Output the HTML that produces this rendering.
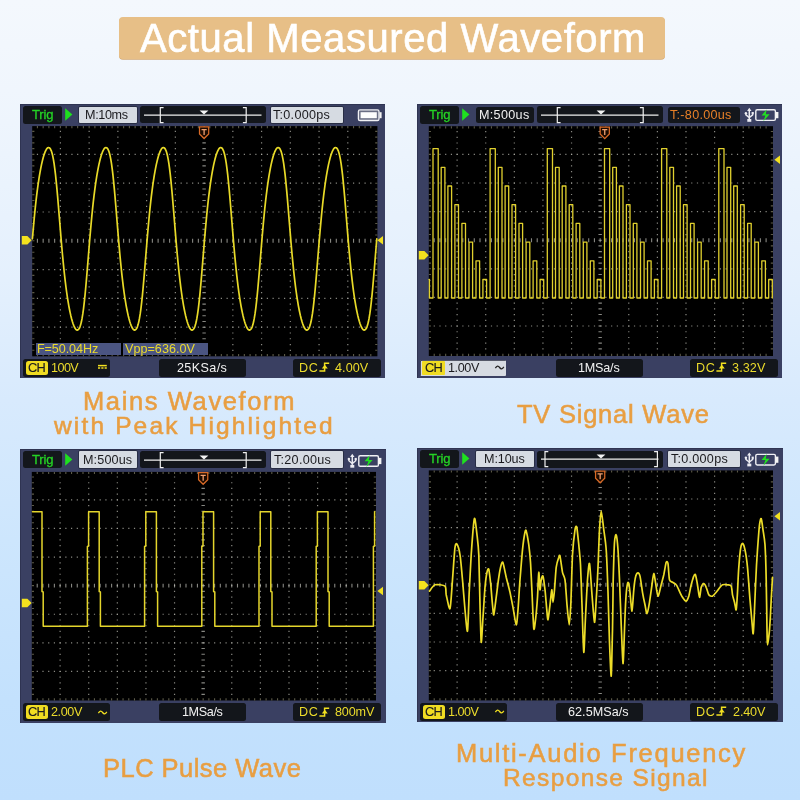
<!DOCTYPE html><html><head><meta charset="utf-8"><title>Actual Measured Waveform</title><style>

html,body{margin:0;padding:0}
body{width:800px;height:800px;position:relative;overflow:hidden;font-family:"Liberation Sans",sans-serif;
background:linear-gradient(180deg,#f4f8fd 0px,#f0f6fd 90px,#e4f0fd 280px,#d8eafd 400px,#cde6fd 540px,#c3e1fd 700px,#c0dffd 800px);}
.banner{position:absolute;left:118.6px;top:17px;width:546.6px;height:42px;background:#e7bf87;border-radius:4px;box-shadow:0 0.8px 0 #d3a974}
.title{will-change:transform;color:#fff;-webkit-text-stroke:0.6px #fff}
.cap{will-change:transform;color:#e89e42;-webkit-text-stroke:0.55px #e89e42}
.scope{position:absolute;width:365.4px;height:274px;background:#3a4062;box-shadow:inset 1px 0 0 #2f3452, inset 0 1px 0 #2f3452}
.scope svg.g{position:absolute;left:0;top:0;z-index:1}
.bx{position:absolute;border-radius:2.5px;z-index:0}
.dk{background:#13161b}
.lt{background:#d6dbe2;border-radius:1px;box-shadow:0 0 0 0.7px #22263a}
.tx{z-index:3;will-change:transform}
.grn{color:#25d325;-webkit-text-stroke:0.3px #25d325}
.blk{color:#1a1a1e}
.wht{color:#f2f2f2}
.yel{color:#ecdc2c}
.org{color:#e88028}
.ch{position:absolute;background:#f0dc22;border-radius:2.5px;z-index:1}
.ms{position:absolute;background:#4b5582;z-index:2}
.ms + .tx{z-index:3;will-change:transform}

</style></head><body>
<div class="banner"></div>
<div class="title" style="position:absolute;white-space:nowrap;left:139.75px;top:10.14px;font-size:40px;line-height:56px;letter-spacing:0.580px;">Actual Measured Waveform</div>
<div class="scope" style="left:20px;top:104px;width:365.0px">
<div class="bx dk" style="left:3px;top:2.2px;width:38.6px;height:17.4px"></div>
<div class="bx lt" style="left:59.4px;top:2.8px;width:57.2px;height:16.3px"></div>
<div class="bx dk" style="left:120px;top:2.4px;width:126.4px;height:17px"></div>
<div class="bx lt" style="left:251px;top:2.8px;width:72.4px;height:16.3px"></div>
<div class="bx dk" style="left:2.8px;top:254.9px;width:86.8px;height:17.7px"></div>
<div class="ch" style="left:5.6px;top:256.8px;width:22.4px;height:13.8px"></div>
<div class="bx dk" style="left:139.4px;top:254.9px;width:86.4px;height:17.7px"></div>
<div class="bx dk" style="left:273.2px;top:254.9px;width:87.4px;height:17.7px"></div>
<svg class="g" width="365.5" height="274.0" viewBox="0 0 365.5 274.0">
<rect x="12.2" y="22.1" width="345.20" height="230.20" fill="#000"/>
<line x1="40.40" y1="26.81" x2="40.40" y2="250.00" stroke="#b0b0a8" stroke-width="1.2" stroke-dasharray="1.2 4.560" opacity="0.78"/>
<line x1="69.14" y1="26.81" x2="69.14" y2="250.00" stroke="#b0b0a8" stroke-width="1.2" stroke-dasharray="1.2 4.560" opacity="0.78"/>
<line x1="97.88" y1="26.81" x2="97.88" y2="250.00" stroke="#b0b0a8" stroke-width="1.2" stroke-dasharray="1.2 4.560" opacity="0.78"/>
<line x1="126.62" y1="26.81" x2="126.62" y2="250.00" stroke="#b0b0a8" stroke-width="1.2" stroke-dasharray="1.2 4.560" opacity="0.78"/>
<line x1="155.36" y1="26.81" x2="155.36" y2="250.00" stroke="#b0b0a8" stroke-width="1.2" stroke-dasharray="1.2 4.560" opacity="0.78"/>
<line x1="212.84" y1="26.81" x2="212.84" y2="250.00" stroke="#b0b0a8" stroke-width="1.2" stroke-dasharray="1.2 4.560" opacity="0.78"/>
<line x1="241.58" y1="26.81" x2="241.58" y2="250.00" stroke="#b0b0a8" stroke-width="1.2" stroke-dasharray="1.2 4.560" opacity="0.78"/>
<line x1="270.32" y1="26.81" x2="270.32" y2="250.00" stroke="#b0b0a8" stroke-width="1.2" stroke-dasharray="1.2 4.560" opacity="0.78"/>
<line x1="299.06" y1="26.81" x2="299.06" y2="250.00" stroke="#b0b0a8" stroke-width="1.2" stroke-dasharray="1.2 4.560" opacity="0.78"/>
<line x1="327.80" y1="26.81" x2="327.80" y2="250.00" stroke="#b0b0a8" stroke-width="1.2" stroke-dasharray="1.2 4.560" opacity="0.78"/>
<line x1="16.86" y1="50.40" x2="354.54" y2="50.40" stroke="#b0b0a8" stroke-width="1.2" stroke-dasharray="1.2 4.548" opacity="0.78"/>
<line x1="16.86" y1="79.20" x2="354.54" y2="79.20" stroke="#b0b0a8" stroke-width="1.2" stroke-dasharray="1.2 4.548" opacity="0.78"/>
<line x1="16.86" y1="108.00" x2="354.54" y2="108.00" stroke="#b0b0a8" stroke-width="1.2" stroke-dasharray="1.2 4.548" opacity="0.78"/>
<line x1="16.86" y1="165.60" x2="354.54" y2="165.60" stroke="#b0b0a8" stroke-width="1.2" stroke-dasharray="1.2 4.548" opacity="0.78"/>
<line x1="16.86" y1="194.40" x2="354.54" y2="194.40" stroke="#b0b0a8" stroke-width="1.2" stroke-dasharray="1.2 4.548" opacity="0.78"/>
<line x1="16.86" y1="223.20" x2="354.54" y2="223.20" stroke="#b0b0a8" stroke-width="1.2" stroke-dasharray="1.2 4.548" opacity="0.78"/>
<line x1="16.86" y1="136.80" x2="354.54" y2="136.80" stroke="#c8c8c0" stroke-width="3.9" stroke-dasharray="1.1 4.648" opacity="0.68"/>
<line x1="184.10" y1="26.81" x2="184.10" y2="250.00" stroke="#c8c8c0" stroke-width="3.4" stroke-dasharray="1.1 4.660" opacity="0.68"/>
<line x1="16.86" y1="23.20" x2="354.54" y2="23.20" stroke="#5c5a48" stroke-width="2.2" stroke-dasharray="1.1 4.648"/>
<line x1="16.86" y1="251.20" x2="354.54" y2="251.20" stroke="#5c5a48" stroke-width="2.2" stroke-dasharray="1.1 4.648"/>
<line x1="13.30" y1="26.81" x2="13.30" y2="250.00" stroke="#5c5a48" stroke-width="2.2" stroke-dasharray="1.1 4.660"/>
<line x1="356.30" y1="26.81" x2="356.30" y2="250.00" stroke="#5c5a48" stroke-width="2.2" stroke-dasharray="1.1 4.660"/>
<polyline points="12.4,134.8 13.1,126.6 13.8,118.8 14.5,111.4 15.2,104.4 15.9,97.9 16.6,91.9 17.3,86.3 18.0,81.1 18.7,76.3 19.4,71.9 20.1,67.8 20.8,64.1 21.5,60.7 22.2,57.6 22.9,54.8 23.6,52.3 24.3,50.1 25.0,48.2 25.7,46.6 26.4,45.3 27.1,44.3 27.8,43.7 28.5,43.5 29.2,43.7 29.9,44.2 30.6,45.3 31.3,46.8 32.0,49.0 32.7,51.8 33.4,55.4 34.1,59.7 34.8,64.8 35.5,70.7 36.2,77.3 36.9,84.6 37.6,92.4 38.3,100.7 39.0,109.2 39.7,117.8 40.4,126.4 41.1,134.8 41.8,143.0 42.5,150.8 43.2,158.2 43.9,165.2 44.6,171.7 45.3,177.7 46.0,183.3 46.7,188.5 47.4,193.3 48.1,197.7 48.8,201.8 49.5,205.5 50.2,208.9 50.9,212.0 51.6,214.8 52.3,217.3 53.0,219.5 53.7,221.4 54.4,223.0 55.1,224.3 55.8,225.3 56.5,225.9 57.2,226.1 57.9,225.9 58.6,225.4 59.3,224.3 60.0,222.8 60.7,220.6 61.4,217.8 62.1,214.2 62.8,209.9 63.5,204.8 64.2,198.9 64.9,192.3 65.6,185.0 66.3,177.2 67.0,168.9 67.7,160.4 68.4,151.8 69.1,143.2 69.8,134.8 70.5,126.6 71.2,118.8 71.9,111.4 72.6,104.4 73.3,97.9 74.0,91.9 74.7,86.3 75.4,81.1 76.1,76.3 76.8,71.9 77.5,67.8 78.2,64.1 78.9,60.7 79.6,57.6 80.3,54.8 81.0,52.3 81.7,50.1 82.4,48.2 83.1,46.6 83.8,45.3 84.5,44.3 85.2,43.7 85.9,43.5 86.6,43.7 87.3,44.2 88.0,45.3 88.7,46.8 89.4,49.0 90.1,51.8 90.8,55.4 91.5,59.7 92.2,64.8 92.9,70.7 93.6,77.3 94.3,84.6 95.0,92.4 95.7,100.7 96.4,109.2 97.1,117.8 97.8,126.4 98.5,134.8 99.2,143.0 99.9,150.8 100.6,158.2 101.3,165.2 102.0,171.7 102.7,177.7 103.4,183.3 104.1,188.5 104.8,193.3 105.5,197.7 106.2,201.8 106.9,205.5 107.6,208.9 108.3,212.0 109.0,214.8 109.7,217.3 110.4,219.5 111.1,221.4 111.8,223.0 112.5,224.3 113.2,225.3 113.9,225.9 114.6,226.1 115.3,225.9 116.0,225.4 116.7,224.3 117.4,222.8 118.1,220.6 118.8,217.8 119.5,214.2 120.2,209.9 120.9,204.8 121.6,198.9 122.3,192.3 123.0,185.0 123.7,177.2 124.4,168.9 125.1,160.4 125.8,151.8 126.5,143.2 127.2,134.8 127.9,126.6 128.6,118.8 129.3,111.4 130.0,104.4 130.7,97.9 131.4,91.9 132.1,86.3 132.8,81.1 133.5,76.3 134.2,71.9 134.9,67.8 135.6,64.1 136.3,60.7 137.0,57.6 137.7,54.8 138.4,52.3 139.1,50.1 139.8,48.2 140.5,46.6 141.2,45.3 141.9,44.3 142.6,43.7 143.3,43.5 144.0,43.7 144.7,44.2 145.4,45.3 146.1,46.8 146.8,49.0 147.5,51.8 148.2,55.4 148.9,59.7 149.6,64.8 150.3,70.7 151.0,77.3 151.7,84.6 152.4,92.4 153.1,100.7 153.8,109.2 154.5,117.8 155.2,126.4 155.9,134.8 156.6,143.0 157.3,150.8 158.0,158.2 158.7,165.2 159.4,171.7 160.1,177.7 160.8,183.3 161.5,188.5 162.2,193.3 162.9,197.7 163.6,201.8 164.3,205.5 165.0,208.9 165.7,212.0 166.4,214.8 167.1,217.3 167.8,219.5 168.5,221.4 169.2,223.0 169.9,224.3 170.6,225.3 171.3,225.9 172.0,226.1 172.7,225.9 173.4,225.4 174.1,224.3 174.8,222.8 175.5,220.6 176.2,217.8 176.9,214.2 177.6,209.9 178.3,204.8 179.0,198.9 179.7,192.3 180.4,185.0 181.1,177.2 181.8,168.9 182.5,160.4 183.2,151.8 183.9,143.2 184.6,134.8 185.3,126.6 186.0,118.8 186.7,111.4 187.4,104.4 188.1,97.9 188.8,91.9 189.5,86.3 190.2,81.1 190.9,76.3 191.6,71.9 192.3,67.8 193.0,64.1 193.7,60.7 194.4,57.6 195.1,54.8 195.8,52.3 196.5,50.1 197.2,48.2 197.9,46.6 198.6,45.3 199.3,44.3 200.0,43.7 200.7,43.5 201.4,43.7 202.1,44.2 202.8,45.3 203.5,46.8 204.2,49.0 204.9,51.8 205.6,55.4 206.3,59.7 207.0,64.8 207.7,70.7 208.4,77.3 209.1,84.6 209.8,92.4 210.5,100.7 211.2,109.2 211.9,117.8 212.6,126.4 213.3,134.8 214.0,143.0 214.7,150.8 215.4,158.2 216.1,165.2 216.8,171.7 217.5,177.7 218.2,183.3 218.9,188.5 219.6,193.3 220.3,197.7 221.0,201.8 221.7,205.5 222.4,208.9 223.1,212.0 223.8,214.8 224.5,217.3 225.2,219.5 225.9,221.4 226.6,223.0 227.3,224.3 228.0,225.3 228.7,225.9 229.4,226.1 230.1,225.9 230.8,225.4 231.5,224.3 232.2,222.8 232.9,220.6 233.6,217.8 234.3,214.2 235.0,209.9 235.7,204.8 236.4,198.9 237.1,192.3 237.8,185.0 238.5,177.2 239.2,168.9 239.9,160.4 240.6,151.8 241.3,143.2 242.0,134.8 242.7,126.6 243.4,118.8 244.1,111.4 244.8,104.4 245.5,97.9 246.2,91.9 246.9,86.3 247.6,81.1 248.3,76.3 249.0,71.9 249.7,67.8 250.4,64.1 251.1,60.7 251.8,57.6 252.5,54.8 253.2,52.3 253.9,50.1 254.6,48.2 255.3,46.6 256.0,45.3 256.7,44.3 257.4,43.7 258.1,43.5 258.8,43.7 259.5,44.2 260.2,45.3 260.9,46.8 261.6,49.0 262.3,51.8 263.0,55.4 263.7,59.7 264.4,64.8 265.1,70.7 265.8,77.3 266.5,84.6 267.2,92.4 267.9,100.7 268.6,109.2 269.3,117.8 270.0,126.4 270.7,134.8 271.4,143.0 272.1,150.8 272.8,158.2 273.5,165.2 274.2,171.7 274.9,177.7 275.6,183.3 276.3,188.5 277.0,193.3 277.7,197.7 278.4,201.8 279.1,205.5 279.8,208.9 280.5,212.0 281.2,214.8 281.9,217.3 282.6,219.5 283.3,221.4 284.0,223.0 284.7,224.3 285.4,225.3 286.1,225.9 286.8,226.1 287.5,225.9 288.2,225.4 288.9,224.3 289.6,222.8 290.3,220.6 291.0,217.8 291.7,214.2 292.4,209.9 293.1,204.8 293.8,198.9 294.5,192.3 295.2,185.0 295.9,177.2 296.6,168.9 297.3,160.4 298.0,151.8 298.7,143.2 299.4,134.8 300.1,126.6 300.8,118.8 301.5,111.4 302.2,104.4 302.9,97.9 303.6,91.9 304.3,86.3 305.0,81.1 305.7,76.3 306.4,71.9 307.1,67.8 307.8,64.1 308.5,60.7 309.2,57.6 309.9,54.8 310.6,52.3 311.3,50.1 312.0,48.2 312.7,46.6 313.4,45.3 314.1,44.3 314.8,43.7 315.5,43.5 316.2,43.7 316.9,44.2 317.6,45.3 318.3,46.8 319.0,49.0 319.7,51.8 320.4,55.4 321.1,59.7 321.8,64.8 322.5,70.7 323.2,77.3 323.9,84.6 324.6,92.4 325.3,100.7 326.0,109.2 326.7,117.8 327.4,126.4 328.1,134.8 328.8,143.0 329.5,150.8 330.2,158.2 330.9,165.2 331.6,171.7 332.3,177.7 333.0,183.3 333.7,188.5 334.4,193.3 335.1,197.7 335.8,201.8 336.5,205.5 337.2,208.9 337.9,212.0 338.6,214.8 339.3,217.3 340.0,219.5 340.7,221.4 341.4,223.0 342.1,224.3 342.8,225.3 343.5,225.9 344.2,226.1 344.9,225.9 345.6,225.4 346.3,224.3 347.0,222.8 347.7,220.6 348.4,217.8 349.1,214.2 349.8,209.9 350.5,204.8 351.2,198.9 351.9,192.3 352.6,185.0 353.3,177.2 354.0,168.9 354.7,160.4 355.4,151.8 356.1,143.2 356.8,134.8" fill="none" stroke="#e8da28" stroke-width="1.7" stroke-linejoin="round" stroke-linecap="round"/>
<g transform="translate(184.10,22.30)" fill="none" stroke="#d96a26" stroke-width="1.25"><path d="M-4.6,0.6 H4.6 V7.6 L0,12.2 L-4.6,7.6 Z" fill="#1a0a00"/><path d="M-2.6,3.3 H2.6 M0,3.3 V8.6" stroke="#f0a070" stroke-width="1.3"/></g>
<path d="M1.8,132.0 H7.4 L11.6,136.3 L7.4,140.6 H1.8 Z" fill="#f4e21e"/>
<path d="M363,132.1 V140.5 L357.4,136.3 Z" fill="#f2e020"/>
<g stroke="#f0f0f0" stroke-width="1.2" fill="none"><path d="M124,11.2 H241.5"/><path d="M143.6,3.6 H140.3 V18.6 H143.6"/><path d="M222.9,3.6 H226.2 V18.6 H222.9"/></g>
<path d="M179.6,6.4 H188.4 L184,10.6 Z" fill="#f4f4f4"/>
<path d="M45.2,4.2 V16.8 L52.4,10.5 Z" fill="#1fe01f"/>
<g transform="translate(0,0)">
<rect x="338.4" y="5.9" width="20.6" height="10.6" rx="1.6" fill="#6a6e84" stroke="#f2f2f6" stroke-width="1.3"/><rect x="340.6" y="8.2" width="16.2" height="6" fill="#fdfdfd"/><rect x="359.4" y="8.2" width="2.2" height="6" fill="#f4f4f4"/>
</g>
<g stroke="#f2e020"><path d="M78,261.6 H86.8" stroke-width="1.5"/><path d="M78,264 H86.8" stroke-dasharray="2.2 1.1" stroke-width="1.3"/></g>
<path d="M299.4,267 H304.6 V259.3 H309.2" fill="none" stroke="#f2e020" stroke-width="1.5"/><path d="M301.8,264.4 L304.8,260.8 L307.8,264.4 Z" fill="#f2e020"/>
</svg>
</div>
<div class="tx grn" style="position:absolute;white-space:nowrap;left:32.20px;top:106.10px;font-size:13px;line-height:18px;letter-spacing:-0.125px;">Trig</div>
<div class="tx blk" style="position:absolute;white-space:nowrap;left:85.45px;top:106.13px;font-size:12.6px;line-height:18px;letter-spacing:-0.348px;">M:10ms</div>
<div class="tx blk" style="position:absolute;white-space:nowrap;left:273.20px;top:106.03px;font-size:12.6px;line-height:18px;letter-spacing:0.273px;">T:0.000ps</div>
<div class="tx blk" style="position:absolute;white-space:nowrap;left:28.40px;top:358.86px;font-size:12.8px;line-height:18px;letter-spacing:-0.842px;-webkit-text-stroke:0.15px #222;">CH</div>
<div class="tx yel" style="position:absolute;white-space:nowrap;left:50.95px;top:358.83px;font-size:12.6px;line-height:18px;letter-spacing:-0.554px;">100V</div>
<div class="tx wht" style="position:absolute;white-space:nowrap;left:176.70px;top:358.63px;font-size:12.6px;line-height:18px;letter-spacing:0.365px;">25KSa/s</div>
<div class="tx yel" style="position:absolute;white-space:nowrap;left:299.10px;top:358.63px;font-size:12.6px;line-height:18px;letter-spacing:0.705px;">DC</div>
<div class="tx yel" style="position:absolute;white-space:nowrap;left:334.70px;top:358.63px;font-size:12.6px;line-height:18px;letter-spacing:0.072px;">4.00V</div>
<div class="ms" style="left:36.3px;top:342.6px;width:85.2px;height:12.2px"></div>
<div class="ms" style="left:123px;top:342.6px;width:85px;height:12.2px"></div>
<div class="tx yel" style="position:absolute;white-space:nowrap;left:37.20px;top:339.63px;font-size:12.6px;line-height:18px;letter-spacing:-0.095px;">F=50.04Hz</div>
<div class="tx yel" style="position:absolute;white-space:nowrap;left:124.70px;top:339.63px;font-size:12.6px;line-height:18px;letter-spacing:0.025px;">Vpp=636.0V</div>
<div class="scope" style="left:417px;top:104px;width:365.4px">
<div class="bx dk" style="left:3px;top:2.2px;width:38.6px;height:17.4px"></div>
<div class="bx dk" style="left:59.4px;top:2.8px;width:57.2px;height:16.3px"></div>
<div class="bx dk" style="left:120px;top:2.4px;width:126.4px;height:17px"></div>
<div class="bx dk" style="left:251px;top:2.8px;width:72.4px;height:16.3px"></div>
<div class="bx lt" style="left:3.4px;top:255.6px;width:85.4px;height:16.2px;box-shadow:inset 0.8px 0.8px 0 #2a2e40"></div>
<div class="ch" style="left:4.8px;top:256.8px;width:23.6px;height:14px;border-radius:1px"></div>
<div class="bx dk" style="left:139.4px;top:254.9px;width:86.4px;height:17.7px"></div>
<div class="bx dk" style="left:273.2px;top:254.9px;width:87.4px;height:17.7px"></div>
<svg class="g" width="365.5" height="274.0" viewBox="0 0 365.5 274.0">
<rect x="11.8" y="22.2" width="344.20" height="229.80" fill="#000"/>
<line x1="40.11" y1="26.97" x2="40.11" y2="248.60" stroke="#b0b0a8" stroke-width="1.2" stroke-dasharray="1.2 4.520" opacity="0.78"/>
<line x1="68.72" y1="26.97" x2="68.72" y2="248.60" stroke="#b0b0a8" stroke-width="1.2" stroke-dasharray="1.2 4.520" opacity="0.78"/>
<line x1="97.33" y1="26.97" x2="97.33" y2="248.60" stroke="#b0b0a8" stroke-width="1.2" stroke-dasharray="1.2 4.520" opacity="0.78"/>
<line x1="125.94" y1="26.97" x2="125.94" y2="248.60" stroke="#b0b0a8" stroke-width="1.2" stroke-dasharray="1.2 4.520" opacity="0.78"/>
<line x1="154.55" y1="26.97" x2="154.55" y2="248.60" stroke="#b0b0a8" stroke-width="1.2" stroke-dasharray="1.2 4.520" opacity="0.78"/>
<line x1="211.77" y1="26.97" x2="211.77" y2="248.60" stroke="#b0b0a8" stroke-width="1.2" stroke-dasharray="1.2 4.520" opacity="0.78"/>
<line x1="240.38" y1="26.97" x2="240.38" y2="248.60" stroke="#b0b0a8" stroke-width="1.2" stroke-dasharray="1.2 4.520" opacity="0.78"/>
<line x1="268.99" y1="26.97" x2="268.99" y2="248.60" stroke="#b0b0a8" stroke-width="1.2" stroke-dasharray="1.2 4.520" opacity="0.78"/>
<line x1="297.60" y1="26.97" x2="297.60" y2="248.60" stroke="#b0b0a8" stroke-width="1.2" stroke-dasharray="1.2 4.520" opacity="0.78"/>
<line x1="326.21" y1="26.97" x2="326.21" y2="248.60" stroke="#b0b0a8" stroke-width="1.2" stroke-dasharray="1.2 4.520" opacity="0.78"/>
<line x1="16.67" y1="50.40" x2="352.82" y2="50.40" stroke="#b0b0a8" stroke-width="1.2" stroke-dasharray="1.2 4.522" opacity="0.78"/>
<line x1="16.67" y1="79.00" x2="352.82" y2="79.00" stroke="#b0b0a8" stroke-width="1.2" stroke-dasharray="1.2 4.522" opacity="0.78"/>
<line x1="16.67" y1="107.60" x2="352.82" y2="107.60" stroke="#b0b0a8" stroke-width="1.2" stroke-dasharray="1.2 4.522" opacity="0.78"/>
<line x1="16.67" y1="164.80" x2="352.82" y2="164.80" stroke="#b0b0a8" stroke-width="1.2" stroke-dasharray="1.2 4.522" opacity="0.78"/>
<line x1="16.67" y1="193.40" x2="352.82" y2="193.40" stroke="#b0b0a8" stroke-width="1.2" stroke-dasharray="1.2 4.522" opacity="0.78"/>
<line x1="16.67" y1="222.00" x2="352.82" y2="222.00" stroke="#b0b0a8" stroke-width="1.2" stroke-dasharray="1.2 4.522" opacity="0.78"/>
<line x1="16.67" y1="136.20" x2="352.82" y2="136.20" stroke="#c8c8c0" stroke-width="3.9" stroke-dasharray="1.1 4.622" opacity="0.68"/>
<line x1="183.16" y1="26.97" x2="183.16" y2="248.60" stroke="#c8c8c0" stroke-width="3.4" stroke-dasharray="1.1 4.620" opacity="0.68"/>
<line x1="16.67" y1="23.30" x2="352.82" y2="23.30" stroke="#5c5a48" stroke-width="2.2" stroke-dasharray="1.1 4.622"/>
<line x1="16.67" y1="250.90" x2="352.82" y2="250.90" stroke="#5c5a48" stroke-width="2.2" stroke-dasharray="1.1 4.622"/>
<line x1="12.90" y1="26.97" x2="12.90" y2="248.60" stroke="#5c5a48" stroke-width="2.2" stroke-dasharray="1.1 4.620"/>
<line x1="354.90" y1="26.97" x2="354.90" y2="248.60" stroke="#5c5a48" stroke-width="2.2" stroke-dasharray="1.1 4.620"/>
<polyline points="12.0,175.5 12.4,175.5 12.4,194.0 16.0,194.0 16.0,44.6 21.2,44.6 21.2,194.0 24.2,194.0 24.2,63.3 27.9,63.3 27.9,194.0 30.9,194.0 30.9,82.0 34.6,82.0 34.6,194.0 37.9,194.0 37.9,100.7 41.5,100.7 41.5,194.0 44.9,194.0 44.9,119.4 48.5,119.4 48.5,194.0 52.0,194.0 52.0,138.1 55.6,138.1 55.6,194.0 59.0,194.0 59.0,156.8 62.6,156.8 62.6,194.0 65.9,194.0 65.9,175.5 69.6,175.5 69.6,194.0 73.1,194.0 73.1,44.6 78.3,44.6 78.3,194.0 81.3,194.0 81.3,63.3 85.0,63.3 85.0,194.0 88.1,194.0 88.1,82.0 91.7,82.0 91.7,194.0 95.0,194.0 95.0,100.7 98.6,100.7 98.6,194.0 102.0,194.0 102.0,119.4 105.6,119.4 105.6,194.0 109.1,194.0 109.1,138.1 112.8,138.1 112.8,194.0 116.1,194.0 116.1,156.8 119.8,156.8 119.8,194.0 123.1,194.0 123.1,175.5 126.7,175.5 126.7,194.0 130.3,194.0 130.3,44.6 135.5,44.6 135.5,194.0 138.5,194.0 138.5,63.3 142.2,63.3 142.2,194.0 145.2,194.0 145.2,82.0 148.9,82.0 148.9,194.0 152.2,194.0 152.2,100.7 155.8,100.7 155.8,194.0 159.1,194.0 159.1,119.4 162.8,119.4 162.8,194.0 166.3,194.0 166.3,138.1 169.9,138.1 169.9,194.0 173.3,194.0 173.3,156.8 176.9,156.8 176.9,194.0 180.2,194.0 180.2,175.5 183.9,175.5 183.9,194.0 187.5,194.0 187.5,44.6 192.7,44.6 192.7,194.0 195.7,194.0 195.7,63.3 199.4,63.3 199.4,194.0 202.4,194.0 202.4,82.0 206.0,82.0 206.0,194.0 209.4,194.0 209.4,100.7 213.0,100.7 213.0,194.0 216.3,194.0 216.3,119.4 219.9,119.4 219.9,194.0 223.5,194.0 223.5,138.1 227.1,138.1 227.1,194.0 230.5,194.0 230.5,156.8 234.1,156.8 234.1,194.0 237.4,194.0 237.4,175.5 241.0,175.5 241.0,194.0 244.6,194.0 244.6,44.6 249.8,44.6 249.8,194.0 252.8,194.0 252.8,63.3 256.5,63.3 256.5,194.0 259.6,194.0 259.6,82.0 263.2,82.0 263.2,194.0 266.5,194.0 266.5,100.7 270.1,100.7 270.1,194.0 273.5,194.0 273.5,119.4 277.1,119.4 277.1,194.0 280.6,194.0 280.6,138.1 284.2,138.1 284.2,194.0 287.6,194.0 287.6,156.8 291.2,156.8 291.2,194.0 294.6,194.0 294.6,175.5 298.2,175.5 298.2,194.0 301.8,194.0 301.8,44.6 307.0,44.6 307.0,194.0 310.0,194.0 310.0,63.3 313.7,63.3 313.7,194.0 316.7,194.0 316.7,82.0 320.3,82.0 320.3,194.0 323.6,194.0 323.6,100.7 327.2,100.7 327.2,194.0 330.6,194.0 330.6,119.4 334.2,119.4 334.2,194.0 337.8,194.0 337.8,138.1 341.4,138.1 341.4,194.0 344.8,194.0 344.8,156.8 348.4,156.8 348.4,194.0 351.7,194.0 351.7,175.5 355.3,175.5 355.3,194.0" fill="none" stroke="#e0d02e" stroke-width="1.3" stroke-linejoin="round" stroke-linecap="round"/>
<g transform="translate(187.75,22.40)" fill="none" stroke="#d96a26" stroke-width="1.25"><path d="M-4.6,0.6 H4.6 V7.6 L0,12.2 L-4.6,7.6 Z" fill="#1a0a00"/><path d="M-2.6,3.3 H2.6 M0,3.3 V8.6" stroke="#f0a070" stroke-width="1.3"/></g>
<path d="M1.8,147.0 H7.4 L11.6,151.3 L7.4,155.6 H1.8 Z" fill="#f4e21e"/>
<path d="M363,51.6 V60.0 L357.4,55.8 Z" fill="#f2e020"/>
<g stroke="#f0f0f0" stroke-width="1.2" fill="none"><path d="M124,11.2 H241.5"/><path d="M143.6,3.6 H140.3 V18.6 H143.6"/><path d="M222.9,3.6 H226.2 V18.6 H222.9"/></g>
<path d="M179.6,6.4 H188.4 L184,10.6 Z" fill="#f4f4f4"/>
<path d="M45.2,4.2 V16.8 L52.4,10.5 Z" fill="#1fe01f"/>
<g transform="translate(0,0)">
<rect x="338.8" y="5.8" width="19.6" height="10.6" rx="1.4" fill="none" stroke="#f0f0f4" stroke-width="1.4"/><rect x="358.6" y="8" width="2.8" height="6.2" fill="#f4f4f4"/>
<path d="M349.6,5.4 L344.6,11.4 H348.4 L346.4,17.2 L352.6,10.2 H348.8 Z" fill="#20e020"/>
<g fill="none" stroke="#ececf2" stroke-width="1.5"><path d="M332.3,5.6 V15"/><path d="M328.9,9.4 V10.8 L332.3,13.6 L335.7,10.8 V9.4" stroke-width="1.4"/></g><path d="M330.1,7 L332.3,3.8 L334.5,7 Z" fill="#ececf2"/><circle cx="328.9" cy="9.2" r="1.25" fill="#ececf2"/><rect x="334.6" y="8" width="2.2" height="2.2" fill="#ececf2"/><rect x="330.3" y="15" width="4" height="2.8" fill="#ececf2"/>
</g>
<path d="M78.4,264.1 q2.1,-3.5 4.2,-0.6 t4.2,-0.6" fill="none" stroke="#222" stroke-width="1.3"/>
<path d="M299.4,267 H304.6 V259.3 H309.2" fill="none" stroke="#f2e020" stroke-width="1.5"/><path d="M301.8,264.4 L304.8,260.8 L307.8,264.4 Z" fill="#f2e020"/>
</svg>
</div>
<div class="tx grn" style="position:absolute;white-space:nowrap;left:429.20px;top:106.10px;font-size:13px;line-height:18px;letter-spacing:-0.125px;">Trig</div>
<div class="tx wht" style="position:absolute;white-space:nowrap;left:479.30px;top:106.13px;font-size:12.6px;line-height:18px;letter-spacing:0.316px;">M:500us</div>
<div class="tx org" style="position:absolute;white-space:nowrap;left:670.20px;top:106.03px;font-size:12.6px;line-height:18px;letter-spacing:0.288px;">T:-80.00us</div>
<div class="tx blk" style="position:absolute;white-space:nowrap;left:425.40px;top:358.86px;font-size:12.8px;line-height:18px;letter-spacing:-0.842px;-webkit-text-stroke:0.15px #222;">CH</div>
<div class="tx blk" style="position:absolute;white-space:nowrap;left:448.00px;top:358.83px;font-size:12.6px;line-height:18px;letter-spacing:-0.403px;">1.00V</div>
<div class="tx wht" style="position:absolute;white-space:nowrap;left:578.20px;top:358.63px;font-size:12.6px;line-height:18px;letter-spacing:-0.200px;">1MSa/s</div>
<div class="tx yel" style="position:absolute;white-space:nowrap;left:696.10px;top:358.63px;font-size:12.6px;line-height:18px;letter-spacing:0.705px;">DC</div>
<div class="tx yel" style="position:absolute;white-space:nowrap;left:731.70px;top:358.63px;font-size:12.6px;line-height:18px;letter-spacing:0.122px;">3.32V</div>
<div class="scope" style="left:20px;top:448.5px;width:365.6px">
<div class="bx dk" style="left:3px;top:2.2px;width:38.6px;height:17.4px"></div>
<div class="bx lt" style="left:59.4px;top:2.8px;width:57.2px;height:16.3px"></div>
<div class="bx dk" style="left:120px;top:2.4px;width:126.4px;height:17px"></div>
<div class="bx lt" style="left:251px;top:2.8px;width:72.4px;height:16.3px"></div>
<div class="bx dk" style="left:2.8px;top:254.9px;width:86.8px;height:17.7px"></div>
<div class="ch" style="left:5.6px;top:256.8px;width:22.4px;height:13.8px"></div>
<div class="bx dk" style="left:139.4px;top:254.9px;width:86.4px;height:17.7px"></div>
<div class="bx dk" style="left:273.2px;top:254.9px;width:87.4px;height:17.7px"></div>
<svg class="g" width="365.5" height="274.0" viewBox="0 0 365.5 274.0">
<rect x="11.8" y="22.9" width="344.20" height="228.60" fill="#000"/>
<line x1="40.11" y1="27.42" x2="40.11" y2="249.05" stroke="#b0b0a8" stroke-width="1.2" stroke-dasharray="1.2 4.520" opacity="0.78"/>
<line x1="68.72" y1="27.42" x2="68.72" y2="249.05" stroke="#b0b0a8" stroke-width="1.2" stroke-dasharray="1.2 4.520" opacity="0.78"/>
<line x1="97.33" y1="27.42" x2="97.33" y2="249.05" stroke="#b0b0a8" stroke-width="1.2" stroke-dasharray="1.2 4.520" opacity="0.78"/>
<line x1="125.94" y1="27.42" x2="125.94" y2="249.05" stroke="#b0b0a8" stroke-width="1.2" stroke-dasharray="1.2 4.520" opacity="0.78"/>
<line x1="154.55" y1="27.42" x2="154.55" y2="249.05" stroke="#b0b0a8" stroke-width="1.2" stroke-dasharray="1.2 4.520" opacity="0.78"/>
<line x1="211.77" y1="27.42" x2="211.77" y2="249.05" stroke="#b0b0a8" stroke-width="1.2" stroke-dasharray="1.2 4.520" opacity="0.78"/>
<line x1="240.38" y1="27.42" x2="240.38" y2="249.05" stroke="#b0b0a8" stroke-width="1.2" stroke-dasharray="1.2 4.520" opacity="0.78"/>
<line x1="268.99" y1="27.42" x2="268.99" y2="249.05" stroke="#b0b0a8" stroke-width="1.2" stroke-dasharray="1.2 4.520" opacity="0.78"/>
<line x1="297.60" y1="27.42" x2="297.60" y2="249.05" stroke="#b0b0a8" stroke-width="1.2" stroke-dasharray="1.2 4.520" opacity="0.78"/>
<line x1="326.21" y1="27.42" x2="326.21" y2="249.05" stroke="#b0b0a8" stroke-width="1.2" stroke-dasharray="1.2 4.520" opacity="0.78"/>
<line x1="16.67" y1="50.85" x2="352.82" y2="50.85" stroke="#b0b0a8" stroke-width="1.2" stroke-dasharray="1.2 4.522" opacity="0.78"/>
<line x1="16.67" y1="79.45" x2="352.82" y2="79.45" stroke="#b0b0a8" stroke-width="1.2" stroke-dasharray="1.2 4.522" opacity="0.78"/>
<line x1="16.67" y1="108.05" x2="352.82" y2="108.05" stroke="#b0b0a8" stroke-width="1.2" stroke-dasharray="1.2 4.522" opacity="0.78"/>
<line x1="16.67" y1="165.25" x2="352.82" y2="165.25" stroke="#b0b0a8" stroke-width="1.2" stroke-dasharray="1.2 4.522" opacity="0.78"/>
<line x1="16.67" y1="193.85" x2="352.82" y2="193.85" stroke="#b0b0a8" stroke-width="1.2" stroke-dasharray="1.2 4.522" opacity="0.78"/>
<line x1="16.67" y1="222.45" x2="352.82" y2="222.45" stroke="#b0b0a8" stroke-width="1.2" stroke-dasharray="1.2 4.522" opacity="0.78"/>
<line x1="16.67" y1="136.65" x2="352.82" y2="136.65" stroke="#c8c8c0" stroke-width="3.9" stroke-dasharray="1.1 4.622" opacity="0.68"/>
<line x1="183.16" y1="27.42" x2="183.16" y2="249.05" stroke="#c8c8c0" stroke-width="3.4" stroke-dasharray="1.1 4.620" opacity="0.68"/>
<line x1="16.67" y1="24.00" x2="352.82" y2="24.00" stroke="#5c5a48" stroke-width="2.2" stroke-dasharray="1.1 4.622"/>
<line x1="16.67" y1="250.40" x2="352.82" y2="250.40" stroke="#5c5a48" stroke-width="2.2" stroke-dasharray="1.1 4.622"/>
<line x1="12.90" y1="27.42" x2="12.90" y2="249.05" stroke="#5c5a48" stroke-width="2.2" stroke-dasharray="1.1 4.620"/>
<line x1="354.90" y1="27.42" x2="354.90" y2="249.05" stroke="#5c5a48" stroke-width="2.2" stroke-dasharray="1.1 4.620"/>
<polyline points="12.5,62.8 22.0,62.8 22.0,142.5 23.2,143.0 23.2,177.3 67.4,177.3 67.4,97.5 68.6,97.0 68.6,62.8 79.2,62.8 79.2,142.5 80.4,143.0 80.4,177.3 124.6,177.3 124.6,97.5 125.8,97.0 125.8,62.8 136.4,62.8 136.4,142.5 137.6,143.0 137.6,177.3 181.8,177.3 181.8,97.5 183.0,97.0 183.0,62.8 193.6,62.8 193.6,142.5 194.8,143.0 194.8,177.3 239.0,177.3 239.0,97.5 240.2,97.0 240.2,62.8 250.8,62.8 250.8,142.5 252.0,143.0 252.0,177.3 296.2,177.3 296.2,97.5 297.4,97.0 297.4,62.8 308.0,62.8 308.0,142.5 309.2,143.0 309.2,177.3 353.4,177.3 353.4,97.5 354.6,97.0 354.6,62.8" fill="none" stroke="#e4d52c" stroke-width="1.5" stroke-linejoin="round" stroke-linecap="round"/>
<g transform="translate(183.16,23.10)" fill="none" stroke="#d96a26" stroke-width="1.25"><path d="M-4.6,0.6 H4.6 V7.6 L0,12.2 L-4.6,7.6 Z" fill="#1a0a00"/><path d="M-2.6,3.3 H2.6 M0,3.3 V8.6" stroke="#f0a070" stroke-width="1.3"/></g>
<path d="M1.8,149.7 H7.4 L11.6,154.0 L7.4,158.3 H1.8 Z" fill="#f4e21e"/>
<path d="M363,137.8 V146.2 L357.4,142.0 Z" fill="#f2e020"/>
<g stroke="#f0f0f0" stroke-width="1.2" fill="none"><path d="M124,11.2 H241.5"/><path d="M143.6,3.6 H140.3 V18.6 H143.6"/><path d="M222.9,3.6 H226.2 V18.6 H222.9"/></g>
<path d="M179.6,6.4 H188.4 L184,10.6 Z" fill="#f4f4f4"/>
<path d="M45.2,4.2 V16.8 L52.4,10.5 Z" fill="#1fe01f"/>
<g transform="translate(0,0.9)">
<rect x="338.8" y="5.8" width="19.6" height="10.6" rx="1.4" fill="none" stroke="#f0f0f4" stroke-width="1.4"/><rect x="358.6" y="8" width="2.8" height="6.2" fill="#f4f4f4"/>
<path d="M349.6,5.4 L344.6,11.4 H348.4 L346.4,17.2 L352.6,10.2 H348.8 Z" fill="#20e020"/>
<g fill="none" stroke="#ececf2" stroke-width="1.5"><path d="M332.3,5.6 V15"/><path d="M328.9,9.4 V10.8 L332.3,13.6 L335.7,10.8 V9.4" stroke-width="1.4"/></g><path d="M330.1,7 L332.3,3.8 L334.5,7 Z" fill="#ececf2"/><circle cx="328.9" cy="9.2" r="1.25" fill="#ececf2"/><rect x="334.6" y="8" width="2.2" height="2.2" fill="#ececf2"/><rect x="330.3" y="15" width="4" height="2.8" fill="#ececf2"/>
</g>
<path d="M78.4,264.1 q2.1,-3.5 4.2,-0.6 t4.2,-0.6" fill="none" stroke="#f2e020" stroke-width="1.3"/>
<path d="M299.4,267 H304.6 V259.3 H309.2" fill="none" stroke="#f2e020" stroke-width="1.5"/><path d="M301.8,264.4 L304.8,260.8 L307.8,264.4 Z" fill="#f2e020"/>
</svg>
</div>
<div class="tx grn" style="position:absolute;white-space:nowrap;left:32.20px;top:450.60px;font-size:13px;line-height:18px;letter-spacing:-0.125px;">Trig</div>
<div class="tx blk" style="position:absolute;white-space:nowrap;left:82.50px;top:450.63px;font-size:12.6px;line-height:18px;letter-spacing:0.132px;">M:500us</div>
<div class="tx blk" style="position:absolute;white-space:nowrap;left:273.50px;top:450.53px;font-size:12.6px;line-height:18px;letter-spacing:0.273px;">T:20.00us</div>
<div class="tx blk" style="position:absolute;white-space:nowrap;left:28.40px;top:703.36px;font-size:12.8px;line-height:18px;letter-spacing:-0.842px;-webkit-text-stroke:0.15px #222;">CH</div>
<div class="tx yel" style="position:absolute;white-space:nowrap;left:51.40px;top:703.33px;font-size:12.6px;line-height:18px;letter-spacing:-0.403px;">2.00V</div>
<div class="tx wht" style="position:absolute;white-space:nowrap;left:182.10px;top:703.13px;font-size:12.6px;line-height:18px;letter-spacing:-0.380px;">1MSa/s</div>
<div class="tx yel" style="position:absolute;white-space:nowrap;left:299.10px;top:703.13px;font-size:12.6px;line-height:18px;letter-spacing:0.705px;">DC</div>
<div class="tx yel" style="position:absolute;white-space:nowrap;left:334.80px;top:703.13px;font-size:12.6px;line-height:18px;letter-spacing:-0.151px;">800mV</div>
<div class="scope" style="left:417px;top:448.2px;width:365.7px">
<div class="bx dk" style="left:3px;top:2.2px;width:38.6px;height:17.4px"></div>
<div class="bx lt" style="left:59.4px;top:2.8px;width:57.2px;height:16.3px"></div>
<div class="bx dk" style="left:120px;top:2.4px;width:126.4px;height:17px"></div>
<div class="bx lt" style="left:251px;top:2.8px;width:72.4px;height:16.3px"></div>
<div class="bx dk" style="left:2.8px;top:254.9px;width:86.8px;height:17.7px"></div>
<div class="ch" style="left:5.6px;top:256.8px;width:22.4px;height:13.8px"></div>
<div class="bx dk" style="left:139.4px;top:254.9px;width:86.4px;height:17.7px"></div>
<div class="bx dk" style="left:273.2px;top:254.9px;width:87.4px;height:17.7px"></div>
<svg class="g" width="365.5" height="274.0" viewBox="0 0 365.5 274.0">
<rect x="11.8" y="22.4" width="344.20" height="230.00" fill="#000"/>
<line x1="40.11" y1="27.57" x2="40.11" y2="249.20" stroke="#b0b0a8" stroke-width="1.2" stroke-dasharray="1.2 4.520" opacity="0.78"/>
<line x1="68.72" y1="27.57" x2="68.72" y2="249.20" stroke="#b0b0a8" stroke-width="1.2" stroke-dasharray="1.2 4.520" opacity="0.78"/>
<line x1="97.33" y1="27.57" x2="97.33" y2="249.20" stroke="#b0b0a8" stroke-width="1.2" stroke-dasharray="1.2 4.520" opacity="0.78"/>
<line x1="125.94" y1="27.57" x2="125.94" y2="249.20" stroke="#b0b0a8" stroke-width="1.2" stroke-dasharray="1.2 4.520" opacity="0.78"/>
<line x1="154.55" y1="27.57" x2="154.55" y2="249.20" stroke="#b0b0a8" stroke-width="1.2" stroke-dasharray="1.2 4.520" opacity="0.78"/>
<line x1="211.77" y1="27.57" x2="211.77" y2="249.20" stroke="#b0b0a8" stroke-width="1.2" stroke-dasharray="1.2 4.520" opacity="0.78"/>
<line x1="240.38" y1="27.57" x2="240.38" y2="249.20" stroke="#b0b0a8" stroke-width="1.2" stroke-dasharray="1.2 4.520" opacity="0.78"/>
<line x1="268.99" y1="27.57" x2="268.99" y2="249.20" stroke="#b0b0a8" stroke-width="1.2" stroke-dasharray="1.2 4.520" opacity="0.78"/>
<line x1="297.60" y1="27.57" x2="297.60" y2="249.20" stroke="#b0b0a8" stroke-width="1.2" stroke-dasharray="1.2 4.520" opacity="0.78"/>
<line x1="326.21" y1="27.57" x2="326.21" y2="249.20" stroke="#b0b0a8" stroke-width="1.2" stroke-dasharray="1.2 4.520" opacity="0.78"/>
<line x1="16.67" y1="51.00" x2="352.82" y2="51.00" stroke="#b0b0a8" stroke-width="1.2" stroke-dasharray="1.2 4.522" opacity="0.78"/>
<line x1="16.67" y1="79.60" x2="352.82" y2="79.60" stroke="#b0b0a8" stroke-width="1.2" stroke-dasharray="1.2 4.522" opacity="0.78"/>
<line x1="16.67" y1="108.20" x2="352.82" y2="108.20" stroke="#b0b0a8" stroke-width="1.2" stroke-dasharray="1.2 4.522" opacity="0.78"/>
<line x1="16.67" y1="165.40" x2="352.82" y2="165.40" stroke="#b0b0a8" stroke-width="1.2" stroke-dasharray="1.2 4.522" opacity="0.78"/>
<line x1="16.67" y1="194.00" x2="352.82" y2="194.00" stroke="#b0b0a8" stroke-width="1.2" stroke-dasharray="1.2 4.522" opacity="0.78"/>
<line x1="16.67" y1="222.60" x2="352.82" y2="222.60" stroke="#b0b0a8" stroke-width="1.2" stroke-dasharray="1.2 4.522" opacity="0.78"/>
<line x1="16.67" y1="136.80" x2="352.82" y2="136.80" stroke="#c8c8c0" stroke-width="3.9" stroke-dasharray="1.1 4.622" opacity="0.68"/>
<line x1="183.16" y1="27.57" x2="183.16" y2="249.20" stroke="#c8c8c0" stroke-width="3.4" stroke-dasharray="1.1 4.620" opacity="0.68"/>
<line x1="16.67" y1="23.50" x2="352.82" y2="23.50" stroke="#5c5a48" stroke-width="2.2" stroke-dasharray="1.1 4.622"/>
<line x1="16.67" y1="251.30" x2="352.82" y2="251.30" stroke="#5c5a48" stroke-width="2.2" stroke-dasharray="1.1 4.622"/>
<line x1="12.90" y1="27.57" x2="12.90" y2="249.20" stroke="#5c5a48" stroke-width="2.2" stroke-dasharray="1.1 4.620"/>
<line x1="354.90" y1="27.57" x2="354.90" y2="249.20" stroke="#5c5a48" stroke-width="2.2" stroke-dasharray="1.1 4.620"/>
<path d="M12.5,143.1 C13.2,142.3 16.1,137.4 18.0,136.8 C19.9,136.2 26.6,136.8 28.0,138.1 C29.4,139.3 28.6,144.0 29.2,146.8 C29.9,149.6 32.2,162.4 33.0,160.6 C33.8,158.7 34.9,139.5 35.5,131.8 C36.1,124.1 37.4,103.7 38.0,99.3 C38.6,94.9 39.4,95.4 40.0,96.3 C40.6,97.2 42.3,102.4 43.0,106.8 C43.7,111.2 44.9,124.9 45.5,131.8 C46.1,138.7 47.4,155.4 48.0,161.8 C48.6,168.2 50.0,185.2 50.5,183.1 C51.0,180.9 51.8,153.8 52.2,144.3 C52.7,134.8 53.7,115.6 54.2,106.8 C54.8,98.1 56.3,78.7 56.8,74.3 C57.2,69.9 57.6,69.7 58.0,71.3 C58.4,72.9 59.5,82.4 60.0,86.8 C60.5,91.2 61.4,98.1 61.8,106.8 C62.1,115.6 62.7,145.9 63.0,156.8 C63.3,167.7 63.9,192.7 64.2,194.3 C64.6,195.9 65.5,176.2 66.0,169.3 C66.5,162.4 67.5,144.9 68.0,139.3 C68.5,133.7 69.5,126.6 70.0,124.3 C70.5,122.1 71.3,119.7 71.8,121.3 C72.2,122.9 73.3,132.4 73.8,136.8 C74.2,141.2 75.1,153.1 75.5,156.8 C75.9,160.6 76.3,167.7 76.8,166.8 C77.2,165.9 78.6,154.0 79.2,149.3 C79.9,144.6 81.1,133.4 81.8,129.3 C82.4,125.2 83.7,118.6 84.2,116.8 C84.8,115.0 85.4,113.2 86.0,114.8 C86.6,116.4 88.4,125.6 89.2,129.3 C90.1,133.0 92.2,140.6 93.0,144.3 C93.8,148.1 95.2,155.2 96.0,159.3 C96.8,163.4 98.6,176.5 99.2,176.8 C99.9,177.1 100.5,167.4 101.0,161.8 C101.5,156.2 102.4,139.3 103.0,131.8 C103.6,124.3 104.9,107.7 105.5,101.8 C106.1,95.9 107.5,86.6 108.0,84.3 C108.5,82.0 108.8,81.5 109.2,83.1 C109.7,84.6 111.2,92.9 111.8,96.8 C112.3,100.7 113.1,108.4 113.5,114.3 C113.9,120.2 114.6,136.0 115.0,144.3 C115.4,152.6 116.3,177.1 116.8,180.6 C117.2,184.0 118.0,175.7 118.5,171.8 C119.0,167.9 120.1,155.2 120.5,149.3 C120.9,143.4 121.4,125.2 121.8,124.3 C122.1,123.4 122.7,140.9 123.0,141.8 C123.3,142.7 123.9,133.5 124.2,131.8 C124.6,130.1 125.5,126.8 126.0,128.1 C126.5,129.3 127.5,137.6 128.0,141.8 C128.5,146.0 129.4,158.1 129.8,161.8 C130.1,165.6 130.6,172.4 131.0,171.8 C131.4,171.2 132.5,160.6 133.0,156.8 C133.5,153.1 134.4,142.1 134.8,141.8 C135.1,141.5 135.7,154.3 136.0,154.3 C136.3,154.3 137.1,146.2 137.5,141.8 C137.9,137.4 138.7,123.4 139.2,119.3 C139.8,115.2 141.3,110.7 141.8,109.3 C142.2,107.9 142.5,106.2 143.0,108.1 C143.5,109.9 144.9,121.3 145.5,124.3 C146.1,127.3 147.4,127.7 148.0,131.8 C148.6,135.9 149.5,151.2 150.0,156.8 C150.5,162.4 151.8,176.8 152.2,176.8 C152.7,176.8 153.3,165.6 153.8,156.8 C154.2,148.1 155.0,116.2 155.5,106.8 C156.0,97.4 157.5,85.2 158.0,81.8 C158.5,78.4 159.3,77.4 159.8,79.3 C160.2,81.2 161.3,92.1 161.8,96.8 C162.2,101.5 163.1,109.3 163.5,116.8 C163.9,124.3 164.6,145.9 165.0,156.8 C165.4,167.7 166.3,202.7 166.8,204.3 C167.2,205.9 168.0,178.4 168.5,169.3 C169.0,160.2 170.0,138.5 170.5,131.8 C171.0,125.1 171.9,113.7 172.5,115.6 C173.1,117.4 174.4,139.5 175.0,146.8 C175.6,154.1 177.0,173.7 177.5,174.3 C178.0,174.9 178.8,158.7 179.2,151.8 C179.7,144.9 180.6,128.1 181.0,119.3 C181.4,110.6 182.1,88.8 182.5,81.8 C182.9,74.8 183.7,63.1 184.2,63.1 C184.8,63.1 186.1,77.0 186.8,81.8 C187.4,86.6 188.7,94.0 189.2,101.8 C189.8,109.6 190.6,132.7 191.0,144.3 C191.4,155.9 192.1,183.8 192.5,194.3 C192.9,204.8 193.9,229.6 194.2,228.1 C194.6,226.5 195.2,193.8 195.5,181.8 C195.8,169.8 196.0,142.7 196.2,131.8 C196.5,120.9 197.1,99.9 197.5,94.3 C197.9,88.7 198.8,85.9 199.2,86.8 C199.7,87.7 200.6,96.2 201.0,101.8 C201.4,107.4 202.1,122.4 202.5,131.8 C202.9,141.2 203.8,166.3 204.2,176.8 C204.7,187.3 205.6,214.9 206.0,215.6 C206.4,216.2 207.2,189.8 207.5,181.8 C207.8,173.8 208.4,157.6 208.8,151.8 C209.1,146.0 210.1,137.6 210.5,135.6 C210.9,133.5 211.4,134.5 211.8,135.6 C212.1,136.6 212.6,140.9 213.0,144.3 C213.4,147.7 214.5,163.4 215.0,163.1 C215.5,162.7 216.3,146.2 216.8,141.8 C217.2,137.4 218.2,130.2 218.8,128.1 C219.3,125.9 220.5,124.8 221.0,124.8 C221.5,124.8 222.4,125.6 223.0,128.1 C223.6,130.5 224.9,140.7 225.5,144.3 C226.1,147.9 227.4,154.1 228.0,156.8 C228.6,159.5 229.4,165.9 230.0,165.6 C230.6,165.2 231.9,157.9 232.5,154.3 C233.1,150.7 234.5,140.4 235.0,136.8 C235.5,133.2 236.3,125.9 236.8,125.6 C237.2,125.2 238.0,131.5 238.5,134.3 C239.0,137.1 240.3,147.7 241.0,148.1 C241.7,148.4 243.5,139.5 244.2,136.8 C245.0,134.1 246.1,129.6 246.8,126.8 C247.4,124.0 248.7,115.7 249.2,114.3 C249.8,112.9 250.6,113.4 251.0,115.6 C251.4,117.7 251.9,129.5 252.5,131.8 C253.1,134.1 254.7,133.7 255.5,134.3 C256.3,134.9 258.5,135.9 259.2,136.8 C260.0,137.7 261.0,140.2 261.8,141.8 C262.5,143.4 264.6,147.9 265.5,149.3 C266.4,150.7 268.5,153.2 269.2,153.1 C270.0,152.9 271.1,150.1 271.8,148.1 C272.4,146.0 273.6,139.3 274.2,136.8 C274.9,134.3 276.2,129.3 276.8,128.1 C277.3,126.8 278.0,125.7 278.5,126.8 C279.0,127.9 280.0,134.0 280.5,136.8 C281.0,139.6 282.0,149.0 282.5,149.3 C283.0,149.6 283.7,141.0 284.2,139.3 C284.8,137.6 286.1,135.6 286.8,135.6 C287.4,135.6 288.6,137.9 289.2,139.3 C289.9,140.7 291.0,145.7 291.8,146.8 C292.5,147.9 294.6,148.4 295.5,148.1 C296.4,147.7 298.3,145.4 299.2,144.3 C300.2,143.2 302.2,140.2 303.0,139.3 C303.8,138.4 304.6,137.1 305.5,136.8 C306.4,136.5 309.4,136.6 310.5,136.8 C311.6,137.0 313.6,136.8 314.2,138.1 C314.9,139.3 315.1,144.8 315.5,146.8 C315.9,148.8 317.0,152.4 317.5,154.3 C318.0,156.2 318.9,163.1 319.2,161.8 C319.6,160.6 320.2,149.6 320.5,144.3 C320.8,139.0 321.3,124.9 321.8,119.3 C322.2,113.7 323.2,102.3 323.8,99.3 C324.3,96.3 325.4,94.9 326.0,95.6 C326.6,96.2 327.9,101.3 328.5,104.3 C329.1,107.3 329.9,113.4 330.5,119.3 C331.1,125.2 332.4,144.9 333.0,151.8 C333.6,158.7 334.6,170.1 335.0,174.3 C335.4,178.5 335.9,187.1 336.2,185.6 C336.6,184.0 337.2,168.5 337.5,161.8 C337.8,155.1 338.4,139.3 338.8,131.8 C339.1,124.3 340.0,108.7 340.5,101.8 C341.0,94.9 342.0,80.7 342.5,76.8 C343.0,72.9 343.8,69.9 344.2,70.6 C344.7,71.2 345.5,78.5 346.0,81.8 C346.5,85.1 347.6,90.6 348.0,96.8 C348.4,103.1 349.0,121.2 349.2,131.8 C349.5,142.4 349.8,173.7 350.0,181.8 C350.2,189.9 350.2,196.8 350.5,196.8 C350.8,196.8 352.0,187.4 352.5,181.8 C353.0,176.2 353.9,158.4 354.2,151.8 C354.6,145.2 355.3,132.1 355.5,129.3" fill="none" stroke="#ecdc28" stroke-width="1.7" stroke-linejoin="round" stroke-linecap="round"/>
<g transform="translate(183.16,22.60)" fill="none" stroke="#d96a26" stroke-width="1.25"><path d="M-4.6,0.6 H4.6 V7.6 L0,12.2 L-4.6,7.6 Z" fill="#1a0a00"/><path d="M-2.6,3.3 H2.6 M0,3.3 V8.6" stroke="#f0a070" stroke-width="1.3"/></g>
<path d="M1.8,133.0 H7.4 L11.6,137.3 L7.4,141.6 H1.8 Z" fill="#f4e21e"/>
<path d="M363,64.1 V72.5 L357.4,68.3 Z" fill="#f2e020"/>
<g stroke="#f0f0f0" stroke-width="1.2" fill="none"><path d="M124,11.2 H241.5"/><path d="M131.3,3.6 H128.0 V18.6 H131.3"/><path d="M237.1,3.6 H240.4 V18.6 H237.1"/></g>
<path d="M179.6,6.4 H188.4 L184,10.6 Z" fill="#f4f4f4"/>
<path d="M45.2,4.2 V16.8 L52.4,10.5 Z" fill="#1fe01f"/>
<g transform="translate(0,0.6)">
<rect x="338.8" y="5.8" width="19.6" height="10.6" rx="1.4" fill="none" stroke="#f0f0f4" stroke-width="1.4"/><rect x="358.6" y="8" width="2.8" height="6.2" fill="#f4f4f4"/>
<path d="M349.6,5.4 L344.6,11.4 H348.4 L346.4,17.2 L352.6,10.2 H348.8 Z" fill="#20e020"/>
<g fill="none" stroke="#ececf2" stroke-width="1.5"><path d="M332.3,5.6 V15"/><path d="M328.9,9.4 V10.8 L332.3,13.6 L335.7,10.8 V9.4" stroke-width="1.4"/></g><path d="M330.1,7 L332.3,3.8 L334.5,7 Z" fill="#ececf2"/><circle cx="328.9" cy="9.2" r="1.25" fill="#ececf2"/><rect x="334.6" y="8" width="2.2" height="2.2" fill="#ececf2"/><rect x="330.3" y="15" width="4" height="2.8" fill="#ececf2"/>
</g>
<path d="M78.4,264.1 q2.1,-3.5 4.2,-0.6 t4.2,-0.6" fill="none" stroke="#f2e020" stroke-width="1.3"/>
<path d="M299.4,267 H304.6 V259.3 H309.2" fill="none" stroke="#f2e020" stroke-width="1.5"/><path d="M301.8,264.4 L304.8,260.8 L307.8,264.4 Z" fill="#f2e020"/>
</svg>
</div>
<div class="tx grn" style="position:absolute;white-space:nowrap;left:429.20px;top:450.30px;font-size:13px;line-height:18px;letter-spacing:-0.125px;">Trig</div>
<div class="tx blk" style="position:absolute;white-space:nowrap;left:483.70px;top:450.33px;font-size:12.6px;line-height:18px;letter-spacing:-0.100px;">M:10us</div>
<div class="tx blk" style="position:absolute;white-space:nowrap;left:670.70px;top:450.23px;font-size:12.6px;line-height:18px;letter-spacing:0.261px;">T:0.000ps</div>
<div class="tx blk" style="position:absolute;white-space:nowrap;left:425.40px;top:703.06px;font-size:12.8px;line-height:18px;letter-spacing:-0.842px;-webkit-text-stroke:0.15px #222;">CH</div>
<div class="tx yel" style="position:absolute;white-space:nowrap;left:448.40px;top:703.03px;font-size:12.6px;line-height:18px;letter-spacing:-0.503px;">1.00V</div>
<div class="tx wht" style="position:absolute;white-space:nowrap;left:568.30px;top:702.83px;font-size:12.6px;line-height:18px;letter-spacing:0.049px;">62.5MSa/s</div>
<div class="tx yel" style="position:absolute;white-space:nowrap;left:696.10px;top:702.83px;font-size:12.6px;line-height:18px;letter-spacing:0.705px;">DC</div>
<div class="tx yel" style="position:absolute;white-space:nowrap;left:732.70px;top:702.83px;font-size:12.6px;line-height:18px;letter-spacing:-0.128px;">2.40V</div>
<div class="cap" style="position:absolute;white-space:nowrap;left:83.30px;top:382.66px;font-size:25.5px;line-height:36px;letter-spacing:1.623px;">Mains Waveform</div>
<div class="cap" style="position:absolute;white-space:nowrap;left:54.00px;top:409.01px;font-size:24.5px;line-height:34px;letter-spacing:2.151px;">with Peak Highlighted</div>
<div class="cap" style="position:absolute;white-space:nowrap;left:516.75px;top:395.76px;font-size:25.5px;line-height:36px;letter-spacing:0.766px;">TV Signal Wave</div>
<div class="cap" style="position:absolute;white-space:nowrap;left:103.00px;top:749.96px;font-size:25.5px;line-height:36px;letter-spacing:0.468px;">PLC Pulse Wave</div>
<div class="cap" style="position:absolute;white-space:nowrap;left:456.00px;top:734.76px;font-size:25.5px;line-height:36px;letter-spacing:1.707px;">Multi-Audio Frequency</div>
<div class="cap" style="position:absolute;white-space:nowrap;left:502.50px;top:761.31px;font-size:24.5px;line-height:34px;letter-spacing:1.372px;">Response Signal</div>
</body></html>
